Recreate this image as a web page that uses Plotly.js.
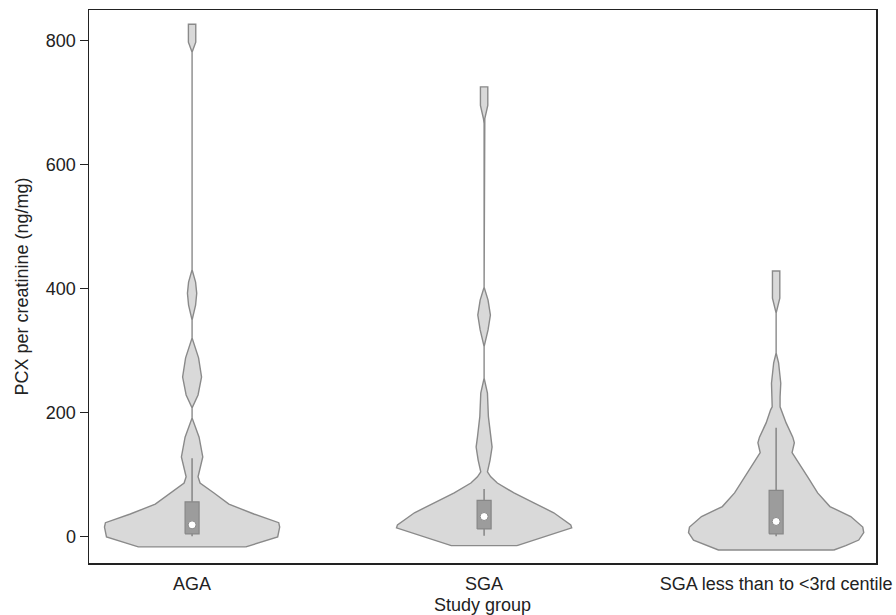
<!DOCTYPE html>
<html>
<head>
<meta charset="utf-8">
<script src="https://cdn.plot.ly/plotly-3.0.1.min.js"></script>
<style>html,body{margin:0;padding:0;background:#fff;}#chart{width:896px;height:615px;}</style>
</head>
<body>
<div id="chart"></div>
<script>
// Categories
const groups = ["AGA", "SGA", "SGA less than to <3rd centile"];

// Violin outlines: y values and relative half-width (density, max = 1)
const agaY = [826, 797, 781, 430, 410, 392, 373, 349, 320, 288, 257, 228, 207, 191, 160, 128, 107, 96, 86, 70, 52, 36, 22, 15, -1, -17];
const agaD = [0.042, 0.042, 0, 0, 0.040, 0.053, 0.040, 0, 0, 0.074, 0.108, 0.068, 0, 0, 0.080, 0.122, 0.085, 0.068, 0.091, 0.25, 0.42, 0.705, 0.989, 1.0, 0.977, 0.614];

const sgaY = [725, 695, 674, 666, 402, 381, 357, 333, 306, 255, 231, 193, 160, 144, 123, 104, 96, 86, 70, 54, 38, 18.5, 13.7, -15];
const sgaD = [0.042, 0.042, 0.008, 0, 0, 0.045, 0.072, 0.045, 0, 0, 0.038, 0.049, 0.076, 0.091, 0.068, 0.038, 0.076, 0.151, 0.341, 0.568, 0.795, 0.989, 1.0, 0.375];

const sga3Y = [428, 384, 368, 360, 296, 280, 247, 225, 209, 204, 183, 160, 151, 135, 119, 96, 70, 48, 32, 15, 6, -6, -15, -22];
const sga3D = [0.042, 0.042, 0.012, 0, 0, 0.028, 0.053, 0.045, 0.045, 0.063, 0.114, 0.19, 0.208, 0.182, 0.256, 0.36, 0.474, 0.614, 0.852, 0.989, 1.0, 0.943, 0.795, 0.659];

// Box summaries
const q1 = [4, 12, 4];
const medians = [18.5, 32, 24];
const q3 = [55.6, 58, 74];
const lowerFence = [0, 1, 0];
const upperFence = [126, 76.5, 175];

// Style
const maxHalf = 0.30;
const boxHalf = 0.024;
const violinFill = "#d9d9d9";
const violinLine = "#8a8a8a";
const font = "Liberation Sans, Arial, sans-serif";

const profiles = [[agaY, agaD], [sgaY, sgaD], [sga3Y, sga3D]];
const traces = [];
profiles.forEach(([ys, ds], i) => {
  const xs = [], yy = [];
  for (let k = ys.length - 1; k >= 0; k--) { xs.push(i + ds[k] * maxHalf); yy.push(ys[k]); }
  for (let k = 0; k < ys.length; k++) { xs.push(i - ds[k] * maxHalf); yy.push(ys[k]); }
  xs.push(xs[0]); yy.push(yy[0]);
  traces.push({
    type: "scatter", mode: "lines", x: xs, y: yy, fill: "toself",
    fillcolor: violinFill, line: {color: violinLine, width: 1.4},
    hoverinfo: "skip", showlegend: false
  });
});

// Whiskers
const wx = [], wy = [];
groups.forEach((g, i) => {
  wx.push(i, i, null, i, i, null);
  wy.push(lowerFence[i], q1[i], null, q3[i], upperFence[i], null);
});
traces.push({
  type: "scatter", mode: "lines", x: wx, y: wy,
  line: {color: "#8a8a8a", width: 1.6}, hoverinfo: "skip", showlegend: false
});

// Boxes
groups.forEach((g, i) => {
  traces.push({
    type: "scatter", mode: "lines",
    x: [i - boxHalf, i + boxHalf, i + boxHalf, i - boxHalf, i - boxHalf],
    y: [q1[i], q1[i], q3[i], q3[i], q1[i]],
    fill: "toself", fillcolor: "#9c9c9c", line: {color: "#878787", width: 1.2},
    hoverinfo: "skip", showlegend: false
  });
});

// Medians
traces.push({
  type: "scatter", mode: "markers", x: [0, 1, 2], y: medians,
  marker: {color: "#ffffff", size: 8, line: {color: "#8a8a8a", width: 1}},
  showlegend: false, hoverinfo: "skip"
});

const layout = {
  width: 896, height: 615,
  margin: {l: 89, r: 20, t: 10, b: 52},
  paper_bgcolor: "#fff", plot_bgcolor: "#fff",
  font: {family: font, size: 18, color: "#222"},
  showlegend: false,
  xaxis: {
    range: [-0.353, 2.342], tickvals: [0, 1, 2], ticktext: groups,
    showline: true, mirror: true, linecolor: "#222", linewidth: 1.5,
    showgrid: false, zeroline: false, ticks: "", ticklabelstandoff: 4,
    title: {text: "Study group", font: {size: 18}, standoff: 6}
  },
  yaxis: {
    range: [-43, 849], tickvals: [0, 200, 400, 600, 800],
    showline: true, mirror: true, linecolor: "#222", linewidth: 1.5,
    showgrid: false, zeroline: false, ticks: "outside", ticklen: 8, tickwidth: 1.5, tickcolor: "#222",
    title: {text: "PCX per creatinine (ng/mg)", font: {size: 18}, standoff: 12}
  }
};

Plotly.newPlot("chart", traces, layout, {displayModeBar: false, staticPlot: true});
</script>
</body>
</html>
